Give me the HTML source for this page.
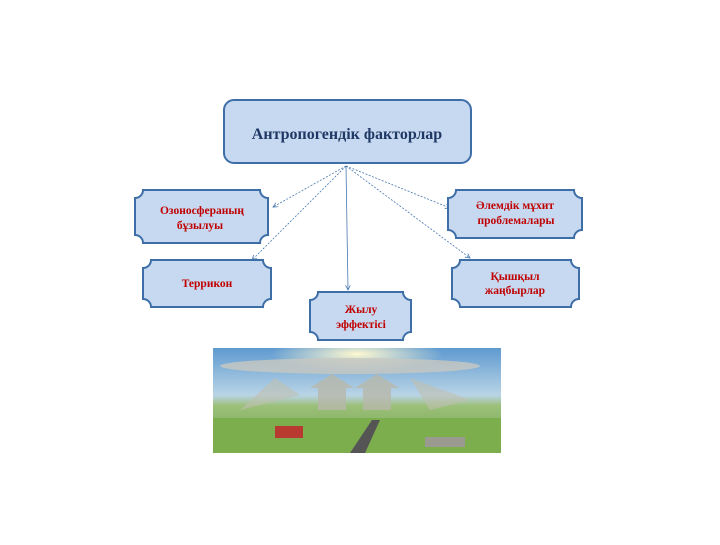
<!DOCTYPE html>
<html><head><meta charset="utf-8"><style>
body{margin:0;background:#fff;width:720px;height:540px;overflow:hidden}
text{font-family:"Liberation Serif",serif;font-weight:bold}
</style></head><body>
<svg width="720" height="540" viewBox="0 0 720 540">
<defs>
<linearGradient id="sky" x1="0" y1="0" x2="0" y2="1">
<stop offset="0" stop-color="#5f9ad0"/><stop offset="0.45" stop-color="#b9d4e6"/><stop offset="0.55" stop-color="#9cc07a"/><stop offset="1" stop-color="#6aa04a"/></linearGradient>
<radialGradient id="sun" cx="0.5" cy="0.1" r="0.3"><stop offset="0" stop-color="#fff8d0"/><stop offset="1" stop-color="#fff8d0" stop-opacity="0"/></radialGradient>
<marker id="ar" markerWidth="8" markerHeight="8" refX="6" refY="3" orient="auto"><path d="M0,0 L6,3 L0,6" fill="none" stroke="#4a78b0" stroke-width="1"/></marker>
</defs>
<rect x="224" y="100" width="247" height="63" rx="10" fill="#c6d9f0" stroke="#3e6ea8" stroke-width="2"/>
<text x="347" y="139" text-anchor="middle" font-size="16" fill="#1f3864">Антропогендік факторлар</text>
<g stroke="#4a78b0" stroke-width="0.8" stroke-dasharray="2,1.5" marker-end="url(#ar)">
<line x1="346" y1="166" x2="273" y2="207"/>
<line x1="346" y1="166" x2="252" y2="260"/>
<line x1="346" y1="166" x2="348" y2="290" stroke-dasharray="none"/>
<line x1="346" y1="166" x2="450" y2="208"/>
<line x1="346" y1="166" x2="470" y2="258"/>
</g>
<g fill="#c6d9f0" stroke="#3e6ea8" stroke-width="2">
<path d="M143,190 H260 A8,8 0 0 0 268,198 V235 A8,8 0 0 0 260,243 H143 A8,8 0 0 0 135,235 V198 A8,8 0 0 0 143,190Z"/>
<path d="M151,260 H263 A8,8 0 0 0 271,268 V299 A8,8 0 0 0 263,307 H151 A8,8 0 0 0 143,299 V268 A8,8 0 0 0 151,260Z"/>
<path d="M318,292 H403 A8,8 0 0 0 411,300 V332 A8,8 0 0 0 403,340 H318 A8,8 0 0 0 310,332 V300 A8,8 0 0 0 318,292Z"/>
<path d="M456,190 H574 A8,8 0 0 0 582,198 V230 A8,8 0 0 0 574,238 H456 A8,8 0 0 0 448,230 V198 A8,8 0 0 0 456,190Z"/>
<path d="M460,260 H571 A8,8 0 0 0 579,268 V299 A8,8 0 0 0 571,307 H460 A8,8 0 0 0 452,299 V268 A8,8 0 0 0 460,260Z"/>
</g>
<g fill="#c00000" font-size="11.5" text-anchor="middle">
<text x="202" y="214">Озоносфераның</text><text x="200" y="229">бұзылуы</text>
<text x="207" y="287">Террикон</text>
<text x="361" y="313">Жылу</text><text x="361" y="328">эффектісі</text>
<text x="515" y="209">Әлемдік мұхит</text><text x="516" y="224">проблемалары</text>
<text x="515" y="280">Қышқыл</text><text x="515" y="294">жаңбырлар</text>
</g>
<rect x="213" y="348" width="288" height="105" fill="url(#sky)"/>
<rect x="213" y="348" width="288" height="60" fill="url(#sun)"/>
<ellipse cx="350" cy="366" rx="130" ry="8" fill="#c8c8c0" opacity="0.8"/>
<path d="M318,410 V388 H310 L332,374 L354,388 H346 V410Z" fill="#b8b8aa" opacity="0.8"/>
<path d="M363,410 V388 H355 L377,374 L399,388 H391 V410Z" fill="#b8b8aa" opacity="0.8"/>
<path d="M240,410 L275,378 L300,395Z" fill="#c0c0b0" opacity="0.6"/>
<path d="M410,378 L470,400 L430,410Z" fill="#c0c0b0" opacity="0.6"/>
<rect x="213" y="418" width="288" height="35" fill="#7cae4e"/>
<rect x="275" y="426" width="28" height="12" fill="#b83a30"/>
<path d="M350,453 L372,420 L380,420 L365,453Z" fill="#555"/>
<rect x="425" y="437" width="40" height="10" fill="#9a9a90"/>
</svg>
</body></html>
